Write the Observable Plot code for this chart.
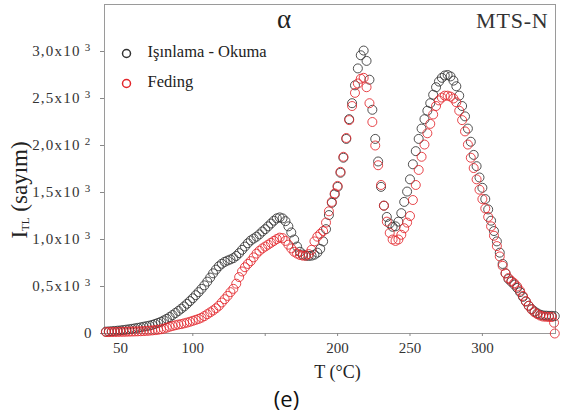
<!DOCTYPE html>
<html>
<head>
<meta charset="utf-8">
<script src="https://cdn.jsdelivr.net/npm/d3@7"></script>
<script src="https://cdn.jsdelivr.net/npm/@observablehq/plot@0.6"></script>
<style>
  html, body { margin: 0; padding: 0; background: #fff; }
  #chart { width: 567px; height: 419px; }
</style>
</head>
<body>
<div id="chart"></div>
<script>
// Temperature grid (°C) and TL intensities
const tempsIrr = [40,42,44,46,48,50,52,54,56,58,60,62,64,66,68,70,72,74,76,78,80,82,84,86,88,90,92,94,96,98,100,102,104,106,108,110,112,114,116,118,120,122,124,126,128,130,132,134,136,138,140,142,144,146,148,150,152,154,156,158,160,162,164,166,168,170,172,174,176,178,180,182,184,186,188,190,192,194,196,198,200,202,204,206,208,210,212,214,216,218,220,222,224,226,228,230,232,234,236,238,240,242,244,246,248,250,252,254,256,258,260,262,264,266,268,270,272,274,276,278,280,282,284,286,288,290,292,294,296,298,300,302,304,306,308,310,312,314,316,318,320,322,324,326,328,330,332,334,336,338,340,342,344,346,348,350];
const irradiationRead = [
  20,22,24,27,30,33,37,41,45,50,
  55,60,66,72,78,84,92,102,113,125,
  140,156,175,196,218,240,264,288,316,345,
  375,408,440,475,512,552,595,640,680,715,
  742,762,776,788,802,825,855,890,925,960,
  990,1010,1030,1055,1085,1110,1140,1170,1200,1225,
  1235,1225,1195,1140,1075,1000,925,870,840,828,
  825,828,838,860,900,980,1110,1260,1390,1480,
  1560,1710,1870,2070,2280,2450,2640,2820,2960,3010,
  2900,2700,2380,2070,1830,1560,1360,1240,1170,1135,
  1140,1190,1280,1400,1510,1640,1800,1940,2070,2180,
  2280,2370,2450,2540,2620,2680,2720,2745,2750,2735,
  2690,2630,2530,2420,2310,2180,2040,1900,1780,1660,
  1550,1430,1320,1200,1090,980,860,740,640,580,
  550,520,485,440,390,340,295,260,235,215,
  200,192,190,188,188,185];
const tempsFad = [40,42,44,46,48,50,52,54,56,58,60,62,64,66,68,70,72,74,76,78,80,82,84,86,88,90,92,94,96,98,100,102,104,106,108,110,112,114,116,118,120,122,124,126,128,130,132,134,136,138,140,142,144,146,148,150,152,154,156,158,160,162,164,166,168,170,172,174,176,178,180,182,184,186,188,190,192,194,196,198,200,202,204,206,208,210,212,214,216,218,220,222,224,226,228,230,232,234,236,238,240,242,244,246,248,250,252,254,256,258,260,262,264,266,268,270,272,274,276,278,280,282,284,286,288,290,292,294,296,298,300,302,304,306,308,310,312,314,316,318,320,322,324,326,328,330,332,334,336,338,340,342,344,346,348,349.5,350];
const fading = [
  15,15,16,16,17,18,18,19,20,21,
  22,23,24,26,28,30,33,36,40,45,
  52,62,72,80,88,95,100,108,116,125,
  135,145,155,168,185,205,225,245,268,295,
  330,365,400,440,475,530,600,660,705,740,
  770,810,850,880,905,925,945,965,985,1005,
  1020,1015,985,945,905,870,850,835,828,828,
  845,890,980,1030,1060,1090,1180,1300,1400,1490,
  1570,1720,1880,2080,2270,2420,2560,2660,2710,2720,
  2620,2450,2250,2000,1790,1580,1360,1190,1070,1000,
  985,1000,1050,1120,1180,1250,1420,1580,1740,1880,
  2010,2130,2230,2330,2420,2480,2510,2530,2530,2520,
  2500,2460,2370,2270,2150,2010,1870,1760,1640,1530,
  1430,1330,1240,1140,1040,930,820,720,640,590,
  560,535,500,455,400,345,295,255,225,205,
  190,180,178,176,175,115,0];

const seriesNames = ["Işınlama - Okuma", "Feding"];
const seriesColors = ["#333333", "#e3262b"];

const xTicks = [50, 100, 150, 200, 250, 300];
const xTickLabels = ["50", "100", "", "200", "250", "300"];
const yTicks = [0, 500, 1000, 1500, 2000, 2500, 3000];
// mantissa and exponent of each y tick label
const yTickMantissa = ["0", "0,5x10", "1,0x10", "1,5x10", "2,0x10", "2,5x10", "3,0x10"];
const yTickExponent = ["", "3", "3", "3", "2", "3", "3"];

const irrData = tempsIrr.map((t, i) => ({t, v: irradiationRead[i]}));
const fadData = tempsFad.map((t, i) => ({t, v: fading[i]}));
const xLab = new Map(xTicks.map((d, i) => [d, xTickLabels[i]]));
const yLab = new Map(yTicks.map((d, i) => [d, yTickMantissa[i] + (yTickExponent[i] ? "^" + yTickExponent[i] : "")]));

const serif = "'Liberation Serif', 'Times New Roman', serif";
const sans = "'Open Sans', 'Noto Sans', sans-serif";

const chart = Plot.plot({
  width: 567,
  height: 419,
  marginLeft: 104,
  marginRight: 12,
  marginTop: 4,
  marginBottom: 86,
  style: {fontFamily: serif, fontSize: "13px", color: "#222", background: "#fff", overflow: "visible"},
  x: {domain: [39, 350.5]},
  y: {domain: [0, 3500]},
  marks: [
    Plot.frame({stroke: "#9a9a9a"}),
    Plot.axisX({ticks: xTicks, tickFormat: d => xLab.get(d), tickSize: 3, tickPadding: 6, stroke: "#888", fill: "#333", label: null}),
    Plot.axisY({ticks: yTicks, tickFormat: d => yLab.get(d), tickSize: 4, tickPadding: 9, stroke: "#888", fill: "#333", label: null}),
    Plot.dot(irrData, {x: "t", y: "v", r: 4.5, stroke: seriesColors[0], strokeWidth: 1, strokeOpacity: 0.85, fill: "none"}),
    Plot.dot(fadData, {x: "t", y: "v", r: 4.5, stroke: seriesColors[1], strokeWidth: 1, strokeOpacity: 0.85, fill: "none"}),
    // legend
    Plot.dot([0], {frameAnchor: "top-left", dx: 22, dy: 49, r: 4, stroke: seriesColors[0], fill: "none"}),
    Plot.dot([0], {frameAnchor: "top-left", dx: 22, dy: 79, r: 4, stroke: seriesColors[1], fill: "none"}),
    Plot.text([seriesNames[0]], {frameAnchor: "top-left", dx: 43, dy: 47, text: d => d, textAnchor: "start", lineAnchor: "middle", fontSize: 16.5, fill: "#222"}),
    Plot.text([seriesNames[1]], {frameAnchor: "top-left", dx: 43, dy: 77, text: d => d, textAnchor: "start", lineAnchor: "middle", fontSize: 16.5, fill: "#222"}),
    // titles
    Plot.text(["α"], {frameAnchor: "top", dx: -46, dy: 15, text: d => d, lineAnchor: "middle", fontSize: 27, fill: "#222"}),
    Plot.text(["MTS-N"], {frameAnchor: "top-right", dx: -7, dy: 16, text: d => d, textAnchor: "end", lineAnchor: "middle", fontSize: 22, fill: "#333"}),
    Plot.text(["T (°C)"], {frameAnchor: "bottom", dx: 7.5, dy: 39, text: d => d, lineAnchor: "middle", fontSize: 18, fill: "#222"}),
    Plot.text(["(e)"], {frameAnchor: "bottom", dx: -43.5, dy: 66, text: d => d, lineAnchor: "middle", fontSize: 22, fill: "#111"})
  ]
});

const svg = d3.select(chart);
const xLabelSet = new Set(xTickLabels.filter(s => s));
const yLabelSet = new Set([...yLab.values()]);
svg.selectAll("text").each(function() {
  const sel = d3.select(this);
  const s = this.textContent;
  sel.style("font-family", s === "(e)" ? sans : serif);
  if (s === "MTS-N") sel.style("letter-spacing", "0.8px");
  if (xLabelSet.has(s)) sel.style("font-size", "15px");
  if (yLabelSet.has(s)) {
    sel.style("font-size", "15px");
    const k = s.indexOf("^");
    if (k > 0) {
      sel.style("letter-spacing", "1.2px");
      sel.text(null);
      sel.append("tspan").text(s.slice(0, k) + "\u2009");
      sel.append("tspan").attr("dy", "-0.45em").style("font-size", "11px").text(s.slice(k + 1));
    }
  }
});

// y-axis label with subscript
const yl = svg.append("text")
  .attr("transform", "translate(22,190) rotate(-90)")
  .attr("text-anchor", "middle")
  .attr("dominant-baseline", "middle")
  .style("font-family", serif)
  .style("font-size", "23px")
  .attr("fill", "#222");
yl.append("tspan").text("I");
yl.append("tspan").style("font-size", "11px").attr("dy", 4).text("TL");
yl.append("tspan").attr("dy", -4).text(" (sayım)");

document.getElementById("chart").appendChild(chart);
</script>
</body>
</html>
